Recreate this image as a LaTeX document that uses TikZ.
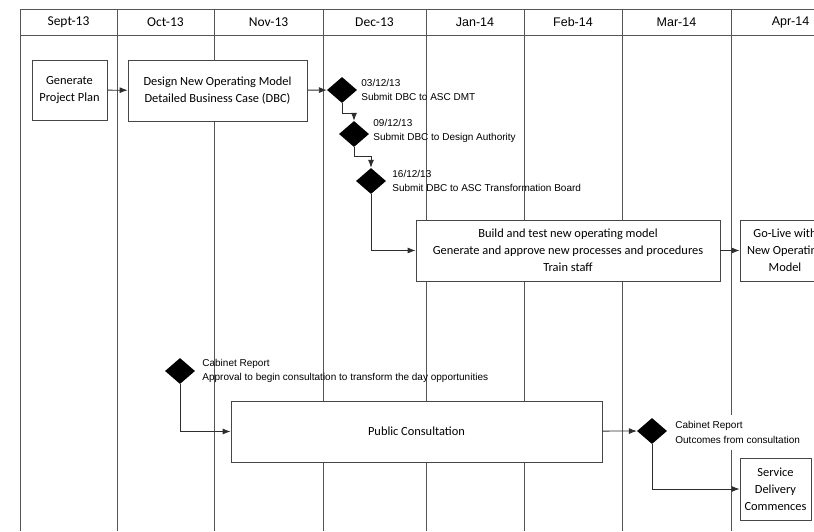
\documentclass[tikz,border=0pt]{standalone}
\usepackage{fontspec}
\setmainfont{Carlito}
\newfontfamily\arialfont{Liberation Sans}
\usepackage{tikz}
\usetikzlibrary{shapes.geometric, arrows.meta, positioning, calc}
\definecolor{griddark}{RGB}{85,85,85}
\definecolor{boxline}{RGB}{70,70,70}
\definecolor{linkgray}{RGB}{45,45,45}
\tikzset{
  task/.style={rectangle, draw=boxline, fill=white, align=center,
    font=\fontsize{12.4}{17}\selectfont, line width=0.8pt, inner sep=0pt},
  milestone/.style={diamond, fill=black, minimum width=30pt,
    minimum height=26pt, inner sep=0pt},
  mslabel/.style={align=left, font=\arialfont\fontsize{10}{14.5}\selectfont,
    inner sep=0pt},
  arrow/.style={-{Latex[length=8pt, width=6pt]}, line width=0.8pt, color=linkgray},
  gridline/.style={line width=0.9pt, color=griddark},
  month/.style={font=\fontsize{13.5}{15}\selectfont},
  amonth/.style={font=\arialfont\fontsize{12.5}{15}\selectfont}
}

\begin{document}
\begin{tikzpicture}[x=1pt, y=-1pt]
  \useasboundingbox (0,0) rectangle (814,531);
  \clip (0,0) rectangle (814,531);

  % Month grid
  \draw[gridline] (20,9) -- (860,9);
  \draw[gridline] (20,35) -- (860,35);
  \foreach \x in {20,117,214,323,426,524,622,731}
    \draw[gridline] (\x,9) -- (\x,531);

  % Month headers
  \node[month] (sep13) at (68.5,22) {Sept-13};
  \node[month] (oct13) at (165.5,22) {Oct-13};
  \node[month] (nov13) at (268.5,22) {Nov-13};
  \node[month] (dec13) at (374.5,22) {Dec-13};
  \node[amonth] (jan14) at (475,22) {Jan-14};
  \node[amonth] (feb14) at (573,22) {Feb-14};
  \node[amonth] (mar14) at (676.5,22) {Mar-14};
  \node[amonth] (apr14) at (790.5,22) {Apr-14};

  % Design stream
  \node[task, minimum width=75pt, minimum height=60pt] (plan) at (69.5,90) {Generate\\Project Plan};
  \node[task, minimum width=179pt, minimum height=61pt] (design) at (217.5,90.5) {Design New Operating Model\\Detailed Business Case (DBC)};

  % DBC milestones
  \node[milestone] (dbc1) at (342,90) {};
  \node[milestone] (dbc2) at (354,134) {};
  \node[milestone] (dbc3) at (371,181) {};
  \node[mslabel, right=4pt of dbc1] (dbc1txt) {03/12/13\\Submit DBC to ASC DMT};
  \node[mslabel, right=4pt of dbc2, yshift=3pt] (dbc2txt) {09/12/13\\Submit DBC to Design Authority};
  \node[mslabel, right=6pt of dbc3] (dbc3txt) {16/12/13\\Submit DBC to ASC Transformation Board};

  % Build and go-live
  \node[task, minimum width=304pt, minimum height=61pt] (build) at (568,250.5) {Build and test new operating model\\Generate and approve new processes and procedures\\Train staff};
  \node[task, minimum width=90pt, minimum height=61pt] (golive) at (785,250.5) {Go-Live with\\New Operating\\Model};

  % Consultation stream
  \node[milestone] (cab1) at (180,371) {};
  \node[mslabel, right=7pt of cab1] (cab1txt) {Cabinet Report\\Approval to begin consultation to transform the day opportunities};
  \node[task, minimum width=371pt, minimum height=61pt] (consult) at (416.5,431.5) {Public Consultation};
  \node[milestone] (cab2) at (652,431) {};
  \node[mslabel, right=8pt of cab2, yshift=-1.5pt, fill=white, inner ysep=7pt] (cab2txt) {Cabinet Report\\Outcomes from consultation};
  \node[task, minimum width=71pt, minimum height=62pt] (service) at (775.5,489) {Service\\Delivery\\Commences};

  % Connections
  \draw[arrow] (plan) -- (design);
  \draw[arrow] (design) -- (dbc1);
  \draw[arrow] (dbc1.south) -- ++(0,10) -| (dbc2.north);
  \draw[arrow] (dbc2.south) -- ++(0,9) -| (dbc3.north);
  \draw[arrow] (dbc3.south) |- (build.west);
  \draw[arrow] (build) -- (golive);
  \draw[arrow] (cab1.south) |- (consult.west);
  \draw[arrow] (consult) -- (cab2);
  \draw[arrow] (cab2.south) |- (service.west);
\end{tikzpicture}
\end{document}
